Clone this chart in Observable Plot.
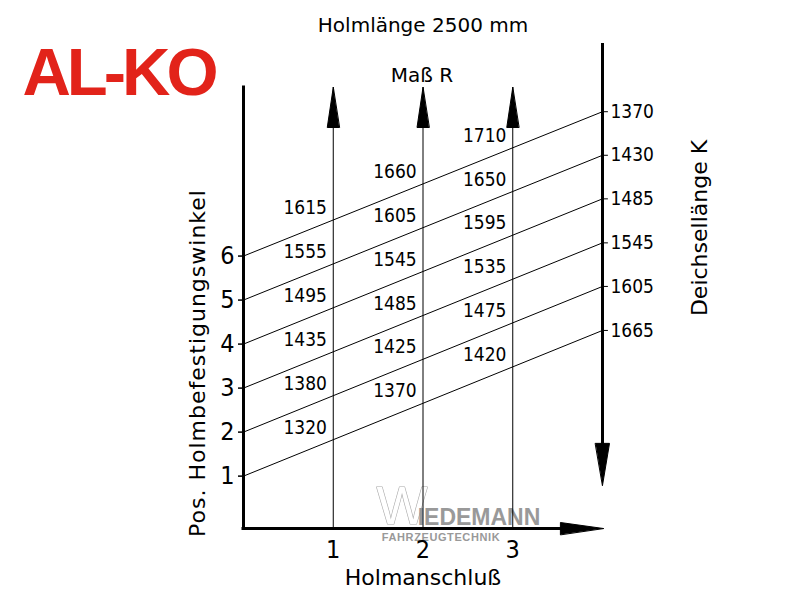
<!DOCTYPE html>
<html><head><meta charset="utf-8">
<script src="https://cdn.jsdelivr.net/npm/d3@7"></script>
<script src="https://cdn.jsdelivr.net/npm/@observablehq/plot@0.6"></script>
<style>
html,body{margin:0;padding:0;background:#fff;}
#chart svg{display:block;}
.logo text{letter-spacing:-4px;}
.wide text{letter-spacing:1px;}
.wm text{letter-spacing:0.6px;}
</style></head><body><div id="chart"></div>
<script>
// ---- data ----
const positions = [1, 2, 3, 4, 5, 6];                        // Pos. Holmbefestigungswinkel (left end of each line)
const lineEnds = [4.31, 5.31, 6.30, 7.30, 8.29, 9.28];       // height of each line where it meets the right axis
const deichsellaenge = [1665, 1605, 1545, 1485, 1430, 1370]; // Deichsellänge K at the right axis
const holmanschluss = [1, 2, 3];                             // x ticks (Holmanschluß)
const massR = [                                              // Maß R per line (rows) and Holmanschluß (columns)
  [1320, 1370, 1420],
  [1380, 1425, 1475],
  [1435, 1485, 1535],
  [1495, 1545, 1595],
  [1555, 1605, 1650],
  [1615, 1660, 1710]
];
const yTicks = [1, 2, 3, 4, 5, 6];
const xEnd = 4;                        // Holmanschluß value of the right (K) axis
const xDomain = [0, 4];
const yDomain = [-0.19, 9.83];
const kAxisTop = 10.83, kAxisTip = 0.79, kShaftEnd = 1.3;
const xAxisTip = 4.01, xShaftEnd = 3.8;

const NUM_FONT = "'Liberation Sans Narrow','DejaVu Sans Condensed','Liberation Sans',sans-serif";
const TXT_FONT = "'DejaVu Sans',sans-serif";

// ---- derived tables ----
const segments = positions.flatMap((p, i) => [
  {k: i, x: 0, y: p},
  {k: i, x: xEnd, y: lineEnds[i]}
]);
const rLabels = massR.flatMap((row, i) => row.map((v, j) => {
  const x = holmanschluss[j];
  return {x, y: positions[i] + (lineEnds[i] - positions[i]) * x / xEnd, v};
}));
const kLabels = deichsellaenge.map((v, i) => ({x: xEnd, y: lineEnds[i], v}));

const head = (hw) => ({draw(ctx, l) { ctx.moveTo(0, -l); ctx.lineTo(-hw, 0); ctx.lineTo(hw, 0); ctx.closePath(); }});
const stub = {draw(ctx, l) { ctx.moveTo(0, 0); ctx.lineTo(0, -l); }};

const chart = Plot.plot({
  width: 800, height: 600,
  marginLeft: 243, marginRight: 198, marginTop: 87, marginBottom: 72,
  x: {domain: xDomain},
  y: {domain: yDomain},
  style: {background: "white", color: "black", overflow: "visible"},
  marks: [
    // watermark
    Plot.text(["W"], {frameAnchor: "bottom", dx: -21, dy: -22, fontSize: 54, fontFamily: "'Liberation Sans',sans-serif", fill: "white", stroke: "#aaa", strokeWidth: 1.2, textAnchor: "middle", lineAnchor: "middle"}),
    Plot.text(["IEDEMANN"], {frameAnchor: "bottom", dx: 56, dy: -11, fontSize: 23, fontWeight: "bold", fontFamily: "'Liberation Sans',sans-serif", fill: "#999", textAnchor: "middle", lineAnchor: "middle"}),
    Plot.text(["FAHRZEUGTECHNIK"], {frameAnchor: "bottom", dx: 18, dy: 9, fontSize: 11, fontWeight: "bold", fontFamily: "'Liberation Sans',sans-serif", fill: "#999", textAnchor: "middle", lineAnchor: "middle", className: "wm"}),
    // logo & titles
    Plot.text(["AL-KO"], {frameAnchor: "top-left", dx: -125, dy: -14, fontSize: 67, fontWeight: "bold", fontFamily: "'Liberation Sans',sans-serif", fill: "#e2231a", textAnchor: "middle", lineAnchor: "middle", className: "logo"}),
    Plot.text(["Holmlänge 2500 mm"], {frameAnchor: "top", dy: -62, fontSize: 20, fontFamily: TXT_FONT, textAnchor: "middle", lineAnchor: "middle"}),
    Plot.text(["Maß R"], {frameAnchor: "top", dx: -1, dy: -12, fontSize: 20, fontFamily: TXT_FONT, textAnchor: "middle", lineAnchor: "middle"}),
    Plot.text(["Holmanschluß"], {frameAnchor: "bottom", dy: 49, fontSize: 22, fontFamily: TXT_FONT, textAnchor: "middle", lineAnchor: "middle"}),
    Plot.text(["Pos. Holmbefestigungswinkel"], {frameAnchor: "left", dx: -46, dy: 55, rotate: -90, fontSize: 22, fontFamily: TXT_FONT, textAnchor: "middle", lineAnchor: "middle", className: "wide"}),
    Plot.text(["Deichsellänge K"], {frameAnchor: "right", dx: 97, dy: -80, rotate: -90, fontSize: 22, fontFamily: TXT_FONT, textAnchor: "middle", lineAnchor: "middle"}),
    // vertical Maß R arrows
    Plot.ruleX(holmanschluss, {stroke: "black", strokeWidth: 1}),
    Plot.vector(holmanschluss, {x: d => d, y: yDomain[1], length: 40, rotate: 0, anchor: "end", shape: head(6), fill: "black", stroke: "black", strokeWidth: 1}),
    // sloped lines
    Plot.line(segments, {x: "x", y: "y", z: "k", stroke: "black", strokeWidth: 1}),
    // left axis
    Plot.ruleX([0], {stroke: "black", strokeWidth: 3, strokeLinecap: "square"}),
    // bottom axis with arrow
    Plot.ruleY([yDomain[0]], {x1: 0, x2: xShaftEnd, stroke: "black", strokeWidth: 3, strokeLinecap: "square"}),
    Plot.vector([yDomain[0]], {x: xAxisTip, y: d => d, length: 43, rotate: 90, anchor: "end", shape: head(6), fill: "black", stroke: "black", strokeWidth: 1}),
    // right K axis with downward arrow
    Plot.ruleX([xEnd], {y1: kAxisTop, y2: kShaftEnd, stroke: "black", strokeWidth: 3}),
    Plot.vector([kAxisTip], {x: xEnd, y: d => d, length: 42, rotate: 180, anchor: "end", shape: head(7), fill: "black", stroke: "black", strokeWidth: 1}),
    Plot.vector(kLabels, {x: "x", y: "y", length: 5, rotate: 90, anchor: "start", shape: stub, stroke: "black", strokeWidth: 1}),
    Plot.text(kLabels, {x: "x", y: "y", text: d => String(d.v), dx: 8, textAnchor: "start", fontSize: 19, fontFamily: NUM_FONT, lineAnchor: "middle"}),
    // Maß R labels
    Plot.text(rLabels, {x: "x", y: "y", text: d => String(d.v), dx: -28, dy: -12, fontSize: 19, fontFamily: NUM_FONT, lineAnchor: "middle"}),
    // axes ticks
    Plot.axisY({ticks: yTicks, tickFormat: d => String(d), tickSize: 5, tickPadding: 4, fontSize: 25, fontFamily: NUM_FONT, label: null, strokeWidth: 1.5}),
    Plot.axisX({ticks: holmanschluss, tickFormat: d => String(d), tickSize: 0, tickPadding: 12, fontSize: 25, fontFamily: NUM_FONT, label: null})
  ]
});
document.getElementById("chart").appendChild(chart);
</script>
</body></html>
